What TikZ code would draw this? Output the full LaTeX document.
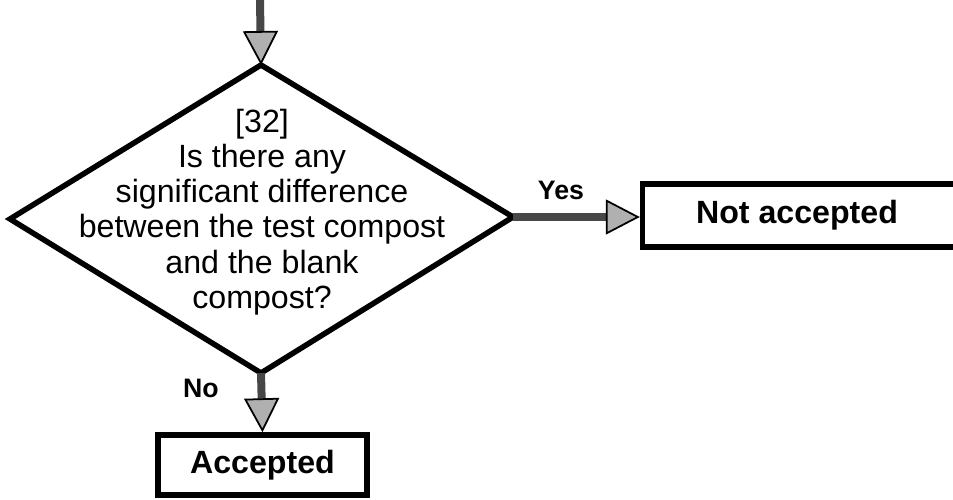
\documentclass[tikz,border=0pt]{standalone}
\usepackage{fontspec}
\setmainfont{Liberation Sans}
\usetikzlibrary{arrows.meta,calc}

\tikzset{
  outline/.style={line width=0.11cm, draw=black, line join=miter},
  boxfont/.style={font=\bfseries\fontsize{18.3}{21}\selectfont},
  boxnode/.style={outline, rectangle, inner sep=0pt, boxfont},
  question/.style={align=center, inner sep=0pt, font=\fontsize{18.3}{20}\selectfont},
  branch/.style={font=\bfseries\fontsize{15.2}{17}\selectfont, inner sep=0pt},
  flow/.style={line width=0.16cm, draw=black!72,
    -{Triangle[length=0.68cm, width=0.7cm, line width=1pt, color=black, fill=gray!62]}},
}

\begin{document}
\begin{tikzpicture}[x=0.02cm, y=-0.02cm]
  \useasboundingbox (0,0) rectangle (953,500);
  \clip (0,0) rectangle (953,500);

  % decision diamond, drawn from its four corners
  \coordinate (qt) at (261,65);
  \coordinate (qr) at (513,217);
  \coordinate (qb) at (261,373);
  \coordinate (ql) at (10,219);
  \coordinate (entry) at (260,0);
  \draw[outline] (qt) -- (qr) -- (qb) -- (ql) -- cycle;
  \node[question] (qtext) at (262,212)
    {[32]\\Is there any\\significant difference\\between the test compost\\and the blank\\compost?};

  % outcome boxes; the right one runs past the edge
  \node[boxnode, minimum width=6.34cm, minimum height=1.26cm] (na) at (801,215.5) {};
  \node[boxfont, inner sep=0pt] (natext) at (797,215) {Not accepted};
  \node[boxnode, minimum width=4.18cm, minimum height=1.2cm] (acc) at (262.5,465) {Accepted};

  % connectors
  \draw[flow] (entry) -- (qt);
  \draw[flow] (qr) -- (qr -| na.west);
  \draw[flow] (qb) -- (acc.north);

  % branch labels
  \node[branch] (yes) at (561,190) {Yes};
  \node[branch] (no) at (201,388) {No};
\end{tikzpicture}
\end{document}
